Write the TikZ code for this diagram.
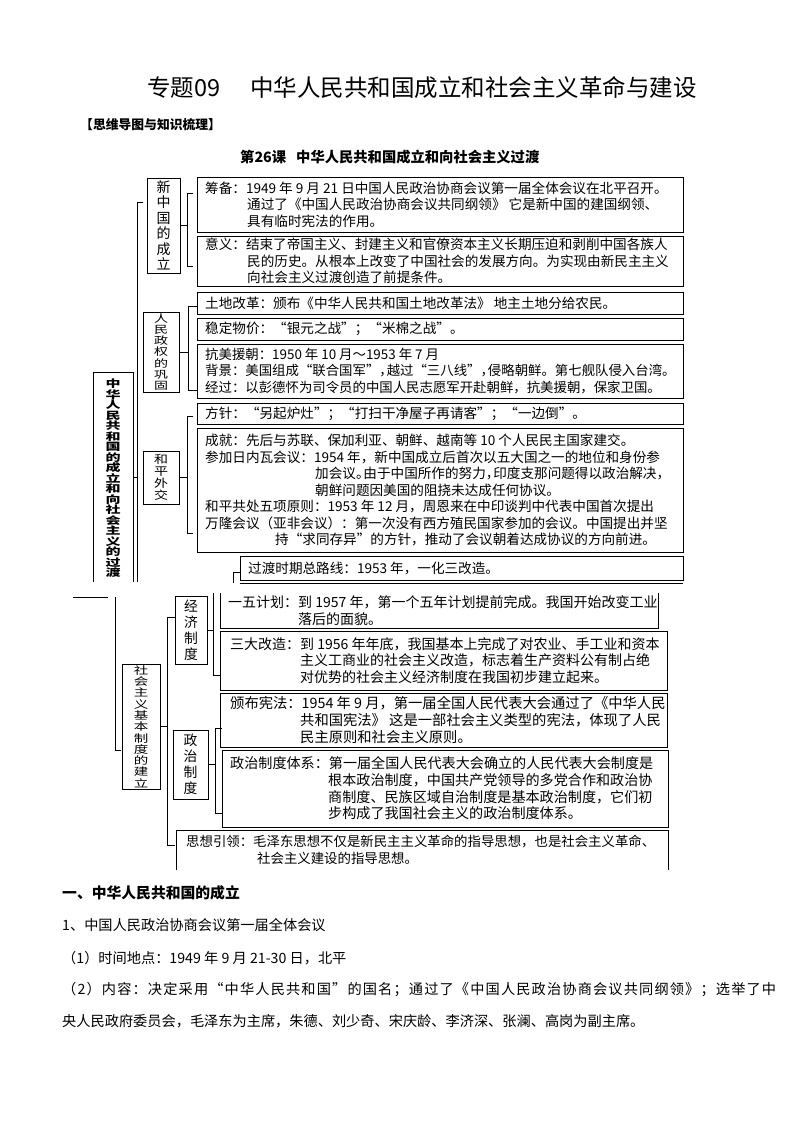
\documentclass[tikz,border=0pt]{standalone}
\usepackage{graphicx}
\usepackage{fontspec}
\setmainfont{Noto Sans CJK SC}
\newcommand\vq[2]{\scalebox{1}[#1]{#2}}
\newcommand\np[1]{\makebox[0.55em][l]{#1}}
\newcommand\tightls{\lineskiplimit=-8pt\relax}
\def\spreadA#1{\ifx#1\relax\unskip\else#1\hfil\expandafter\spreadA\fi}
\newcommand\spreadline[2]{\hbox to #1{\spreadA#2\relax}}
\begin{document}
\begin{tikzpicture}[x=1pt,y=-1pt,
 bx/.style={draw=black, line width=0.9pt, inner sep=0pt, outer sep=0pt, anchor=north west},
 lbx/.style={draw=black, line width=0.75pt, inner sep=0pt, outer sep=0pt, anchor=north west},
 ob/.style={inner sep=0pt, outer sep=0pt, anchor=north west},
 obl/.style={draw=black, line width=0.9pt},
 tu/.style={inner sep=0pt, anchor=west, align=left, font=\fontsize{13.6}{16.5}\selectfont},
 tl/.style={inner sep=0pt, anchor=west, align=left, font=\fontsize{14}{16.6}\selectfont},
 vt/.style={inner sep=0pt, align=center},
 cn/.style={line width=0.75pt, draw=black},
 hd/.style={inner sep=0pt, anchor=west},
]
\useasboundingbox (0,0) rectangle (794,1123);
\fill[white] (0,0) rectangle (794,1123);

% ---------- headings ----------
\node[hd, font=\fontsize{23.5}{26}\selectfont] (title) at (147,88) {专题09\hspace{30pt}中华人民共和国成立和社会主义革命与建设};
\node[hd, font=\fontsize{12.8}{14}\selectfont\bfseries] (sub) at (80,125) {【思维导图与知识梳理】};
\node[hd, font=\fontsize{14.3}{16}\selectfont\bfseries] (lesson) at (240,157) {第26课\hspace{10pt}中华人民共和国成立和向社会主义过渡};

% ---------- upper part: boxes ----------
\node[bx, minimum width=486pt, minimum height=55pt] (b1) at (197,177) {};
\node[bx, minimum width=486pt, minimum height=50pt] (b2) at (197,236) {};
\node[bx, minimum width=486pt, minimum height=22pt] (b3) at (197,292) {};
\node[bx, minimum width=486pt, minimum height=22pt] (b4) at (197,318) {};
\node[bx, minimum width=486pt, minimum height=54pt] (b5) at (197,344) {};
\node[bx, minimum width=486pt, minimum height=21pt] (b6) at (197,403) {};
\node[bx, minimum width=486pt, minimum height=124pt] (b7) at (197,428) {};
\node[bx, minimum width=443pt, minimum height=24pt] (b8) at (240,556) {};
\draw[obl] ([yshift=-3pt]b8.south west) -- ([yshift=-3pt]b8.south east);

\node[tu] (t1) at ([xshift=8pt]b1.west) {筹备：1949 年 9 月 21 日中国人民政治协商会议第一届全体会议在北平召开。\\
\hspace*{42pt}通过了《中国人民政治协商会议共同纲领》 它是新中国的建国纲领、\\
\hspace*{42pt}具有临时宪法的作用。};
\node[tu] (t2) at ([xshift=8pt]b2.west) {意义：结束了帝国主义、封建主义和官僚资本主义长期压迫和剥削中国各族人\\
\hspace*{42pt}民的历史。从根本上改变了中国社会的发展方向。为实现由新民主主义\\
\hspace*{42pt}向社会主义过渡创造了前提条件。};
\node[tu] (t3) at ([xshift=8pt]b3.west) {土地改革：颁布《中华人民共和国土地改革法》 地主土地分给农民。};
\node[tu] (t4) at ([xshift=8pt]b4.west) {稳定物价：“银元之战”；“米棉之战”。};
\node[tu, font=\fontsize{13.4}{16.5}\selectfont] (t5) at ([xshift=8pt]b5.west) {抗美援朝：1950 年 10 月～1953 年 7 月\\
背景：美国组成“联合国军”\np{，}越过“三八线”\np{，}侵略朝鲜。第七舰队侵入台湾。\\
经过：以彭德怀为司令员的中国人民志愿军开赴朝鲜，抗美援朝，保家卫国。};
\node[tu] (t6) at ([xshift=8pt]b6.west) {方针：“另起炉灶”；“打扫干净屋子再请客”；“一边倒”。};
\node[tu] (t7) at ([xshift=8pt]b7.west) {成就：先后与苏联、保加利亚、朝鲜、越南等 10 个人民民主国家建交。\\
参加日内瓦会议：1954 年，新中国成立后首次以五大国之一的地位和身份参\\
\hspace*{110pt}加会议\np{。}由于中国所作的努力\np{，}印度支那问题得以政治解决\np{，}\\
\hspace*{110pt}朝鲜问题因美国的阻挠未达成任何协议。\\
和平共处五项原则：1953 年 12 月，周恩来在中印谈判中代表中国首次提出\\
万隆会议（亚非会议）：第一次没有西方殖民国家参加的会议。中国提出并坚\\
\hspace*{70pt}持“求同存异”的方针，推动了会议朝着达成协议的方向前进。};
\node[tu] (t8) at ([xshift=8pt]b8.west) {过渡时期总路线：1953 年，一化三改造。};

% ---------- upper part: category boxes ----------
\node[ob, minimum width=40pt, minimum height=210pt] (L0) at (93,372) {};
\draw[cn] (L0.south west) -- (L0.north west) -- (L0.north east) -- (L0.south east);
\node[vt, anchor=north, font={\fontsize{15}{10.5}\selectfont\bfseries\tightls}] (L0t) at ([yshift=-7pt]L0.north)
 {\vq{0.68}{中}\\\vq{0.68}{华}\\\vq{0.68}{人}\\\vq{0.68}{民}\\\vq{0.68}{共}\\\vq{0.68}{和}\\\vq{0.68}{国}\\\vq{0.68}{的}\\\vq{0.68}{成}\\\vq{0.68}{立}\\\vq{0.68}{和}\\\vq{0.68}{向}\\\vq{0.68}{社}\\\vq{0.68}{会}\\\vq{0.68}{主}\\\vq{0.68}{义}\\\vq{0.68}{的}\\\vq{0.68}{过}\\\vq{0.68}{渡}};

\node[lbx, minimum width=33pt, minimum height=95pt] (l1) at (147,178) {};
\node[vt, font=\fontsize{14}{15.5}\selectfont] (l1t) at (l1.center) {新\\中\\国\\的\\成\\立};
\node[lbx, minimum width=36pt, minimum height=80pt] (l2) at (143,312) {};
\node[vt, font={\fontsize{14}{11.3}\selectfont\tightls}] (l2t) at (l2.center) {\vq{0.74}{人}\\\vq{0.74}{民}\\\vq{0.74}{政}\\\vq{0.74}{权}\\\vq{0.74}{的}\\\vq{0.74}{巩}\\\vq{0.74}{固}};
\node[lbx, minimum width=36pt, minimum height=53pt] (l3) at (143,451) {};
\node[vt, font={\fontsize{14}{12}\selectfont\tightls}] (l3t) at (l3.center) {\vq{0.8}{和}\\\vq{0.8}{平}\\\vq{0.8}{外}\\\vq{0.8}{交}};

% ---------- upper part: connectors ----------
\coordinate (T1a) at (143,202);
\coordinate (T1b) at (137,582);
\draw[cn] (T1a) -- (T1a -| T1b) -- (T1b);
\draw[cn] (L0.east) -- (L0.east -| T1b);

\coordinate (K1a) at (193,193); \coordinate (K1b) at (193,266); \coordinate (K1x) at (187,0);
\draw[cn] (K1a) -- (K1a -| K1x) -- (K1b -| K1x) -- (K1b);
\draw[cn] (l1.east) -- (l1.east -| K1x);

\coordinate (K2a) at (197,306); \coordinate (K2b) at (197,390); \coordinate (K2x) at (188,0);
\draw[cn] (K2a) -- (K2a -| K2x) -- (K2b -| K2x) -- (K2b);
\draw[cn] (l2.east) -- (l2.east -| K2x);

\coordinate (K3a) at (193,416); \coordinate (K3b) at (193,533); \coordinate (K3x) at (187,0);
\draw[cn] (K3a) -- (K3a -| K3x) -- (K3b -| K3x) -- (K3b);
\draw[cn] (l3.east) -- (l3.east -| K3x);

\coordinate (K7a) at (240,572); \coordinate (K7b) at (233,583);
\draw[cn] (K7a) -- (K7a -| K7b) -- (K7b);

% ---------- lower part ----------
\coordinate (H1) at (73,597); \coordinate (H2) at (108,597);
\draw[cn] (H1) -- (H2);
\coordinate (T2a) at (115,597); \coordinate (T2b) at (121,750);
\draw[cn] (T2a) -- (T2a |- T2b) -- (T2b);

\node[lbx, minimum width=38pt, minimum height=125pt] (l4) at (122,664) {};
\node[vt, font={\fontsize{14.5}{11.3}\selectfont\tightls}] (l4t) at (l4.center) {\vq{0.72}{社}\\\vq{0.72}{会}\\\vq{0.72}{主}\\\vq{0.72}{义}\\\vq{0.72}{基}\\\vq{0.72}{本}\\\vq{0.72}{制}\\\vq{0.72}{度}\\\vq{0.72}{的}\\\vq{0.72}{建}\\\vq{0.72}{立}};
\node[lbx, minimum width=32pt, minimum height=68pt] (l5) at (175,596) {};
\node[vt, font=\fontsize{13.8}{16}\selectfont] (l5t) at (l5.center) {经\\济\\制\\度};
\node[lbx, minimum width=35pt, minimum height=69pt] (l6) at (173,730) {};
\node[vt, font=\fontsize{13.8}{16}\selectfont] (l6t) at (l6.center) {政\\治\\制\\度};

\coordinate (K4a) at (175,617); \coordinate (K4b) at (175,845); \coordinate (K4x) at (167,0);
\draw[cn] (K4a) -- (K4a -| K4x) -- (K4b -| K4x) -- (K4b);
\draw[cn] (l4.east) -- (l4.east -| K4x);

\coordinate (K5a) at (213,593); \coordinate (K5b) at (220,675);
\draw[cn] (K5a) -- (K5a |- K5b) -- (K5b);
\draw[cn] (l5.east) -- (l5.east -| K5a);

\coordinate (K6a) at (222,728); \coordinate (K6b) at (222,813); \coordinate (K6x) at (215,0);
\draw[cn] (K6a) -- (K6a -| K6x) -- (K6b -| K6x) -- (K6b);
\draw[cn] (l6.east) -- (l6.east -| K6x);

\node[ob, minimum width=438pt, minimum height=35pt] (b9) at (220,593) {};
\draw[obl] (b9.north west) -- (b9.south west) -- (b9.south east) -- (b9.north east);
\node[bx, minimum width=447pt, minimum height=59pt] (b10) at (220,631) {};
\node[bx, minimum width=447pt, minimum height=54pt] (b11) at (220,693) {};
\node[bx, minimum width=446pt, minimum height=77pt] (b12) at (222,750) {};
\node[ob, minimum width=492pt, minimum height=40pt] (b13) at (176,830) {};
\draw[obl] (b13.south west) -- (b13.north west) -- (b13.north east) -- (b13.south east);

\node[tl] (t9) at ([xshift=8pt]b9.west) {一五计划：到 1957 年，第一个五年计划提前完成。我国开始改变工业\\
\hspace*{70pt}落后的面貌。};
\node[tl] (t10) at ([xshift=10pt]b10.west) {三大改造：到 1956 年年底，我国基本上完成了对农业、手工业和资本\\
\hspace*{70pt}主义工商业的社会主义改造，标志着生产资料公有制占绝\\
\hspace*{70pt}对优势的社会主义经济制度在我国初步建立起来。};
\node[tl, font=\fontsize{14.3}{16.6}\selectfont] (t11) at ([xshift=10pt]b11.west) {颁布宪法：1954 年 9 月，第一届全国人民代表大会通过了《中华人民\\
\hspace*{70pt}共和国宪法》 这是一部社会主义类型的宪法，体现了人民\\
\hspace*{70pt}民主原则和社会主义原则。};
\node[tl, font=\fontsize{14.1}{16.6}\selectfont] (t12) at ([xshift=8pt]b12.west) {政治制度体系：第一届全国人民代表大会确立的人民代表大会制度是\\
\hspace*{98pt}根本政治制度，中国共产党领导的多党合作和政治协\\
\hspace*{98pt}商制度、民族区域自治制度是基本政治制度，它们初\\
\hspace*{98pt}步构成了我国社会主义的政治制度体系。};
\node[tl, font=\fontsize{13.4}{16.6}\selectfont] (t13) at ([xshift=10pt]b13.west) {思想引领：毛泽东思想不仅是新民主主义革命的指导思想，也是社会主义革命、\\
\hspace*{71pt}社会主义建设的指导思想。};

% ---------- body text ----------
\node[hd, font=\fontsize{14.8}{17}\selectfont\bfseries] (h1) at (62,893) {一、中华人民共和国的成立};
\node[hd, font=\fontsize{14.2}{17}\selectfont] (p1) at (62,925) {1、中国人民政治协商会议第一届全体会议};
\node[hd, font=\fontsize{14.2}{17}\selectfont] (p2) at (62,958) {（1）时间地点：1949 年 9 月 21-30 日，北平};
\node[hd, font=\fontsize{14.2}{17}\selectfont] (p3) at (62,990) {\spreadline{714pt}{（2）内容：决定采用“中华人民共和国”的国名；通过了《中国人民政治协商会议共同纲领》；选举了中}};
\node[hd, font=\fontsize{14.2}{17}\selectfont] (p4) at (62,1021) {央人民政府委员会，毛泽东为主席，朱德、刘少奇、宋庆龄、李济深、张澜、高岗为副主席。};
\end{tikzpicture}
\end{document}
